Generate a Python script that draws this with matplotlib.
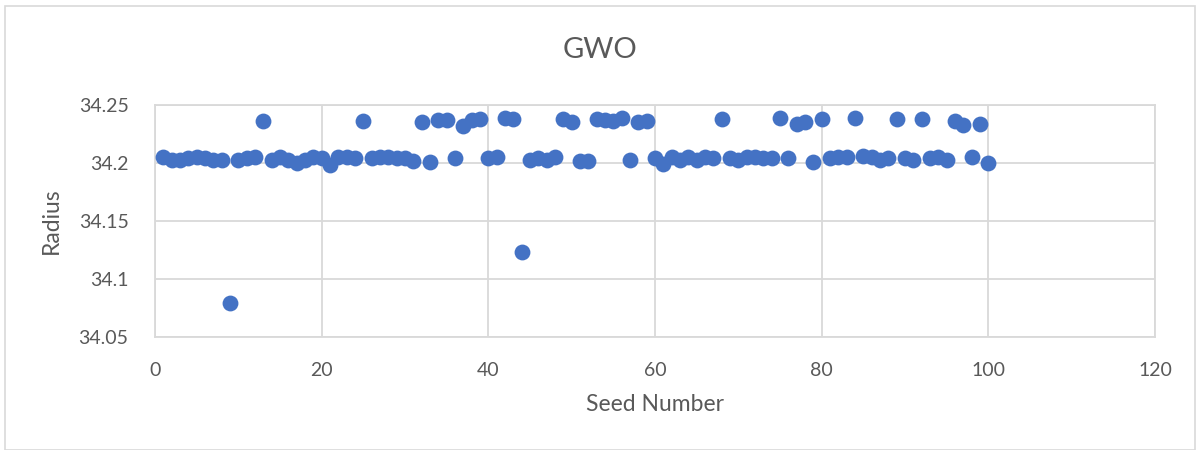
import matplotlib
matplotlib.use("Agg")
import matplotlib.pyplot as plt
from matplotlib.patches import Rectangle
from matplotlib.ticker import FuncFormatter

seeds = list(range(1, 101))
radius = [
    34.205, 34.203, 34.203, 34.204, 34.205, 34.204, 34.203, 34.203, 34.079, 34.203,  # 1-10
    34.204, 34.205, 34.236, 34.203, 34.205, 34.203, 34.200, 34.203, 34.205, 34.204,  # 11-20
    34.198, 34.205, 34.205, 34.204, 34.236, 34.204, 34.205, 34.205, 34.204, 34.204,  # 21-30
    34.202, 34.235, 34.201, 34.237, 34.237, 34.204, 34.232, 34.237, 34.238, 34.204,  # 31-40
    34.205, 34.239, 34.238, 34.123, 34.203, 34.204, 34.203, 34.205, 34.238, 34.235,  # 41-50
    34.202, 34.202, 34.238, 34.237, 34.236, 34.239, 34.203, 34.235, 34.236, 34.204,  # 51-60
    34.199, 34.205, 34.203, 34.205, 34.203, 34.205, 34.204, 34.238, 34.204, 34.203,  # 61-70
    34.205, 34.205, 34.204, 34.204, 34.239, 34.204, 34.234, 34.235, 34.201, 34.238,  # 71-80
    34.204, 34.205, 34.205, 34.239, 34.206, 34.205, 34.203, 34.204, 34.238, 34.204,  # 81-90
    34.203, 34.238, 34.204, 34.205, 34.203, 34.236, 34.233, 34.205, 34.234, 34.200,  # 91-100
]
x_ticks = [0, 20, 40, 60, 80, 100, 120]
y_ticks = [34.05, 34.1, 34.15, 34.2, 34.25]

title = "GWO"
x_label = "Seed Number"
y_label = "Radius"

plt.rcParams['font.family'] = ['Lato', 'DejaVu Sans']
text_color = "#595959"
grid_color = "#D9D9D9"

fig = plt.figure(figsize=(12.01, 4.5), dpi=100)
ax = fig.add_axes([155/1201, 1-337/450, 1000/1201, 232/450])

ax.scatter(seeds, radius, s=130, color="#4472C4", zorder=3, linewidths=0)

ax.set_xlim(0, 120)
ax.set_ylim(34.05, 34.25)
ax.set_xticks(x_ticks)
ax.set_yticks(y_ticks)
ax.yaxis.set_major_formatter(FuncFormatter(lambda v, p: f"{v:g}"))
ax.grid(True, color=grid_color, linewidth=1.3, zorder=0)
ax.set_axisbelow(True)
for sp in ax.spines.values():
    sp.set_color(grid_color)
    sp.set_linewidth(1.3)
ax.tick_params(axis='both', length=0, labelsize=14, colors=text_color)
ax.tick_params(axis='y', pad=19)
ax.tick_params(axis='x', pad=18)

fig.text(0.5, 1-50/450, title, fontsize=21, color=text_color, ha='center', va='center')
ax.set_xlabel(x_label, fontsize=16.5, color=text_color, labelpad=11)
ax.set_ylabel(y_label, fontsize=16.5, color=text_color, labelpad=12)

fig.patches.append(Rectangle((5/1201, 0), 1190/1201, 444/450, transform=fig.transFigure,
                             fill=False, edgecolor=grid_color, linewidth=1.2))

fig.savefig("out.png", dpi=100)
